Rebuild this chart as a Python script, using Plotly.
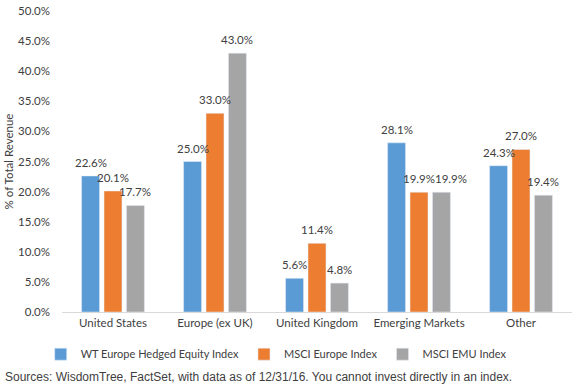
import plotly.graph_objects as go

categories = ["United States", "Europe (ex UK)", "United Kingdom", "Emerging Markets", "Other"]
wt_hedged = [22.6, 25.0, 5.6, 28.1, 24.3]
msci_europe = [20.1, 33.0, 11.4, 19.9, 27.0]
msci_emu = [17.7, 43.0, 4.8, 19.9, 19.4]
series_names = ["WT Europe Hedged Equity Index", "MSCI Europe Index", "MSCI EMU Index"]
colors = ["#5B9BD5", "#ED7D31", "#A5A5A5"]
tick_vals = [0, 5, 10, 15, 20, 25, 30, 35, 40, 45, 50]

font_family = "Lato, Carlito, Calibri, sans-serif"
text_color = "#404040"
bargap = 0.34
series = [wt_hedged, msci_europe, msci_emu]
slot = (1 - bargap) / len(series)
# small horizontal nudges of labels (pixels), as in the original chart
label_nudge = {(2, 3): 10}

fig = go.Figure()
for name, vals, col in zip(series_names, series, colors):
    fig.add_trace(go.Bar(x=categories, y=vals, name=name, marker_color=col))

annotations = []
for i, vals in enumerate(series):
    for j, v in enumerate(vals):
        annotations.append(dict(
            x=j + (i - (len(series) - 1) / 2) * slot, y=v, xref="x", yref="y",
            text=f"{v:.1f}%", showarrow=False, yanchor="bottom", xanchor="center",
            yshift=5, xshift=label_nudge.get((i, j), 0),
            font=dict(size=11.5, color=text_color, family=font_family)))

annotations.append(dict(
    text="Sources: WisdomTree, FactSet, with data as of 12/31/16. You cannot invest directly in an index.",
    xref="paper", yref="paper", x=-0.116, y=-0.216, xanchor="left", yanchor="middle",
    showarrow=False, font=dict(family="Arial, Liberation Sans, sans-serif", size=12, color=text_color)))

fig.update_layout(
    width=573, height=392,
    margin=dict(l=62, r=1, t=11, b=80),
    paper_bgcolor="white", plot_bgcolor="white",
    barmode="group", bargap=bargap, bargroupgap=0.2,
    font=dict(family=font_family, size=11.5, color=text_color),
    showlegend=True,
    legend=dict(orientation="h", x=0.42, xanchor="center", y=-0.14, yanchor="middle",
                font=dict(size=11, color=text_color), itemwidth=30, traceorder="normal"),
    xaxis=dict(showline=True, linecolor="#D9D9D9", linewidth=1, ticks="",
               tickfont=dict(size=11.5, color=text_color)),
    yaxis=dict(range=[0, 50], tickvals=tick_vals,
               ticktext=[f"{v:.1f}%" for v in tick_vals],
               showgrid=False, zeroline=False, showline=False,
               ticklabelstandoff=11,
               title=dict(text="% of Total Revenue", font=dict(size=11.5, color=text_color), standoff=2),
               tickfont=dict(size=11.5, color=text_color)),
    annotations=annotations,
)

fig.write_html("out.html")
